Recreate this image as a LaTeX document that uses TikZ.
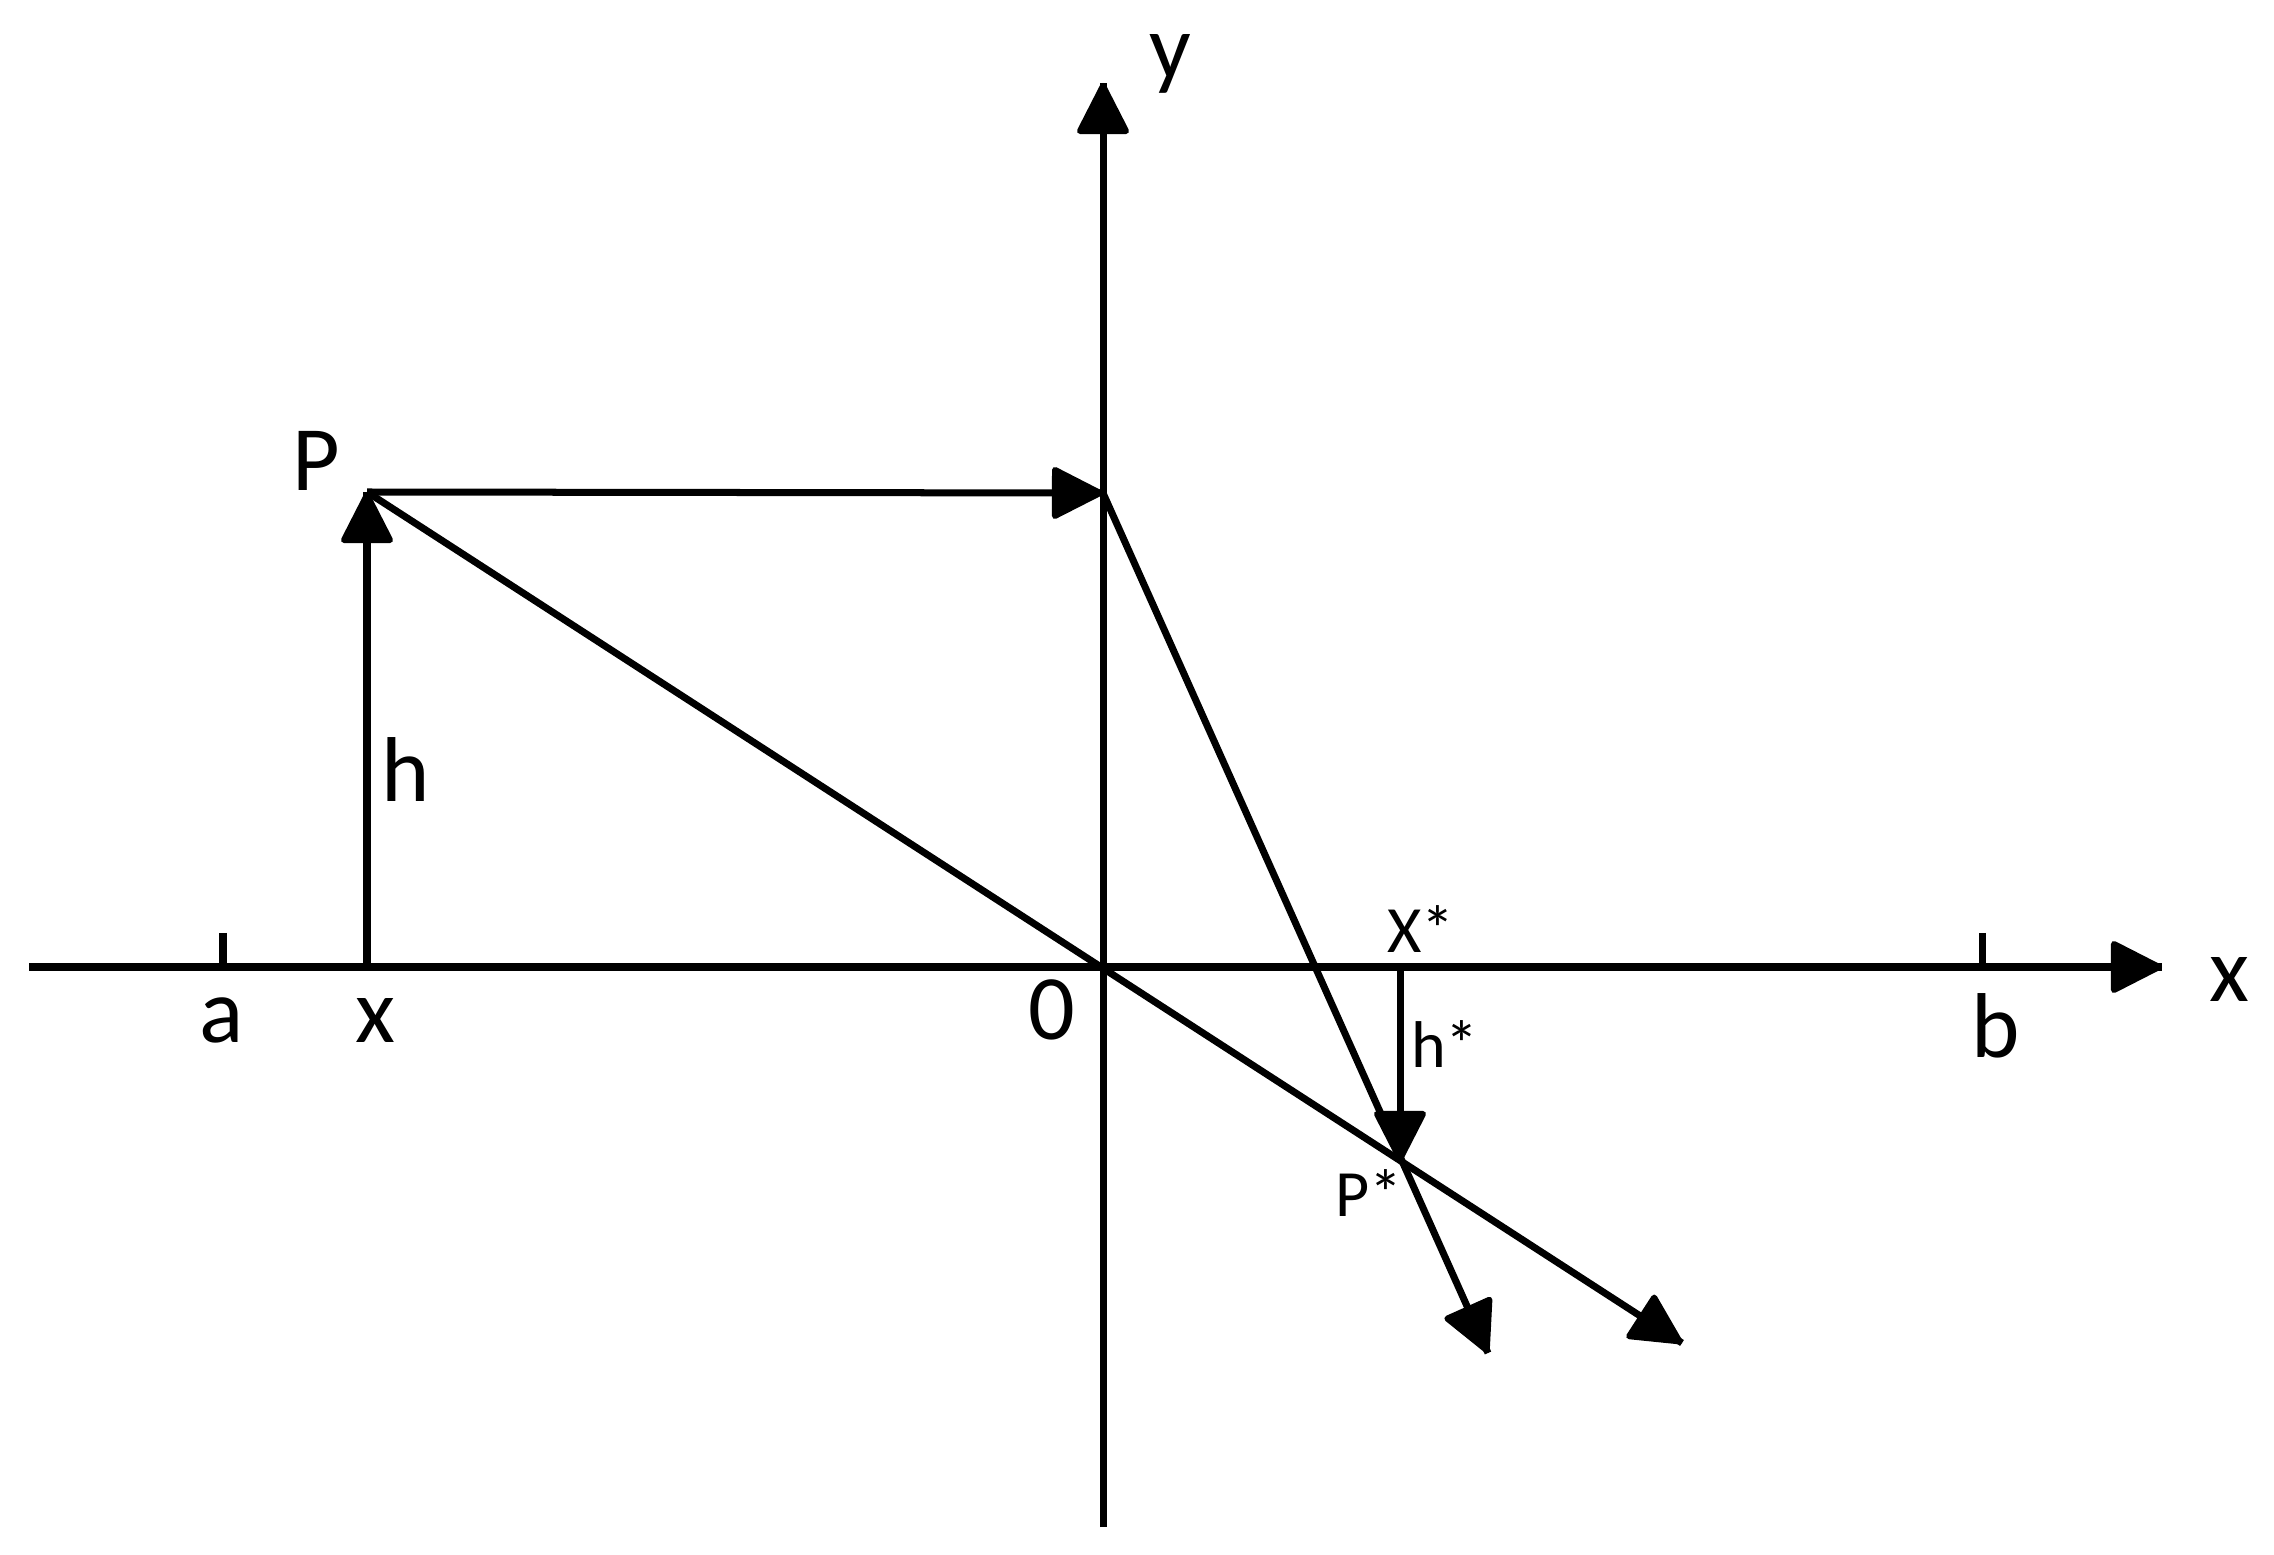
\documentclass[tikz,border=0pt]{standalone}
\usepackage{fontspec}
\setmainfont{Carlito}
\usetikzlibrary{calc}
\begin{document}
\begin{tikzpicture}[x=0.01cm,y=-0.01cm,
  ln/.style={line width=0.07cm},
  tipa/.style={fill=black,draw=black,line width=0.06cm,line join=round},
  big/.style={font=\fontsize{26.2}{30}\selectfont,inner sep=0pt,anchor=base},
  small/.style={font=\fontsize{18.8}{22}\selectfont,inner sep=0pt,anchor=base}]
\useasboundingbox (0,0) rectangle (2274,1555);
% points
\coordinate (L) at (29,967);
\coordinate (R) at (2162,967);
\coordinate (B) at (1103,1527);
\coordinate (T) at (1103,83);
\coordinate (O) at (1103,967);
\coordinate (X) at (367,967);
\coordinate (P) at (367,492);
\coordinate (Q) at (1103,493);
\coordinate (E1) at (1488,1353);
\coordinate (E2) at (1682,1343);
\coordinate (Xs) at (1400,967);
\coordinate (Ps) at (1400,1162);
\coordinate (Ta) at (223,933);
\coordinate (Tab) at (223,967);
\coordinate (Tb) at (1982,933);
\coordinate (Tbb) at (1982,967);
% axes and construction lines
\draw[ln] (L) -- (R);
\draw[ln] (B) -- (T);
\draw[ln] (Ta) -- (Tab);
\draw[ln] (Tb) -- (Tbb);
\draw[ln] (X) -- (P);
\draw[ln] (P) -- (Q);
\draw[ln] (Q) -- (E1);
\draw[ln] (P) -- (E2);
\draw[ln] (Xs) -- (Ps);
% arrowheads
\foreach \s/\e in {L/R, B/T, X/P, P/Q, Q/E1, P/E2, Xs/Ps}{
  \path[tipa] ($(\e)!0.03cm!(\s)$)
    -- ($(\e)!0.48cm!(\s)!0.23cm!90:(\e)$)
    -- ($(\e)!0.48cm!(\s)!0.23cm!-90:(\e)$) -- cycle;
}
% labels
\node[big] (la) at (222,1043) {a};
\node[big] (lx) at (375,1043) {x};
\node[big] (l0) at (1052,1040) {0};
\node[big] (lb) at (1996,1058) {b};
\node[big] (lxa) at (2229,1002) {x};
\node[big] (lya) at (1170,79) {y};
\node[big] (lP) at (316,491) {P};
\node[big] (lh) at (406,802) {h};
\node[small] (lXs) at (1421,953) {X*};
\node[small] (lhs) at (1445,1068) {h*};
\node[small] (lPs) at (1369,1217) {P*};
\end{tikzpicture}
\end{document}
